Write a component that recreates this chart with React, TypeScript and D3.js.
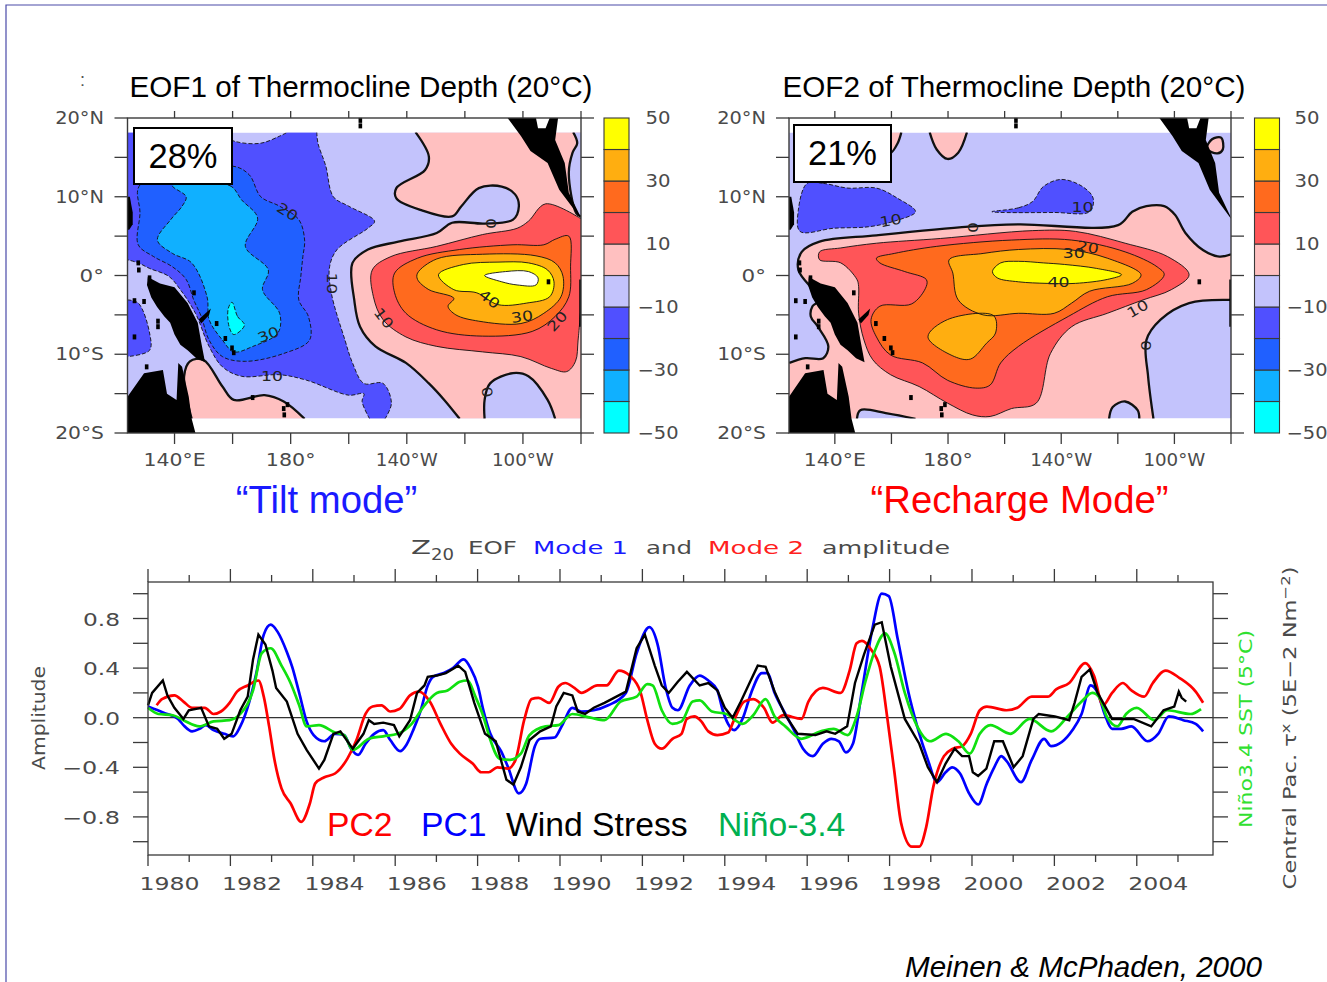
import React from "react";
import * as d3 from "d3";

type P = [number, number];
type Ring = { band: number; pts: P[] };

// ---------- time series (years since 1980, amplitude) ----------
const pc1T = [0,.38,.73,.86,1.07,1.25,1.4,1.59,1.85,2.07,2.24,2.46,2.63,2.81,2.98,3.15,3.37,3.5,3.67,3.85,4.02,4.28,4.54,4.76,4.93,5.1,5.28,5.49,5.71,5.88,6.12,6.27,6.45,6.62,6.79,6.92,7.18,7.4,7.66,7.83,8.01,8.14,8.31,8.57,8.74,9,9.18,9.39,9.52,9.87,10.04,10.3,10.52,10.82,11.17,11.6,11.86,12.17,12.37,12.56,12.73,12.86,13.15,13.39,13.6,13.82,13.95,14.08,14.23,14.43,14.64,14.9,15.03,15.21,15.47,15.68,15.9,16.14,16.38,16.59,16.77,16.94,17.11,17.33,17.59,17.81,17.98,18.2,18.46,18.67,18.93,19.15,19.36,19.52,19.71,19.93,20.15,20.36,20.54,20.71,20.84,21.19,21.45,21.75,21.92,22.44,22.66,22.88,23.05,23.22,23.4,23.62,23.87,24.26,24.52,24.78,25.13,25.43,25.61];
const pc1V = [.09,.04,-.01,-.06,-.11,-.09,-.06,-.1,-.13,-.15,-.07,.13,.36,.67,.75,.69,.53,.41,.2,-.03,-.14,-.19,-.13,-.14,-.25,-.3,-.21,-.13,-.1,-.18,-.27,-.22,-.09,.06,.26,.33,.36,.4,.47,.4,.25,.06,-.13,-.27,-.4,-.61,-.53,-.23,-.17,-.16,-.07,.08,.05,.06,.1,.2,.52,.73,.59,.25,.08,.06,.26,.34,.3,.22,.06,-.05,-.1,-.01,.2,.36,.36,.2,.03,-.1,-.25,-.31,-.21,-.17,-.19,-.28,-.21,.22,.73,1,.98,.63,.2,-.07,-.34,-.52,-.44,-.4,-.45,-.61,-.7,-.53,-.4,-.31,-.35,-.52,-.34,-.17,-.23,-.1,.03,.26,.2,.03,-.09,-.09,-.07,-.19,-.13,.01,-.02,-.05,-.11];

const pc2T = [.21,.34,.64,.86,1.07,1.38,1.59,1.77,1.98,2.16,2.42,2.68,2.81,2.94,3.07,3.24,3.46,3.72,3.93,4.06,4.28,4.54,4.84,5.06,5.28,5.45,5.67,5.88,6.1,6.36,6.58,6.84,7.1,7.36,7.57,7.88,8.09,8.27,8.48,8.74,8.92,9.13,9.31,9.48,9.74,9.96,10.13,10.35,10.52,10.91,11.13,11.43,11.69,11.95,12.12,12.3,12.47,12.73,12.95,13.08,13.26,13.43,13.6,13.82,14.08,14.21,14.47,14.69,14.95,15.16,15.42,15.86,16.03,16.38,16.81,17.03,17.2,17.33,17.55,17.76,17.94,18.11,18.28,18.54,18.72,18.89,19.06,19.32,19.54,19.76,19.97,20.19,20.36,20.84,21.1,21.45,21.84,22.05,22.36,22.75,22.96,23.18,23.4,23.66,23.87,24.18,24.39,24.7,25.04,25.43,25.61];
const pc2V = [.1,.15,.18,.13,.08,.08,.03,.05,.12,.21,.26,.3,.17,-.07,-.34,-.57,-.69,-.84,-.69,-.53,-.48,-.45,-.33,-.18,.03,.09,.1,.05,.07,.18,.21,.13,-.05,-.21,-.29,-.37,-.44,-.44,-.4,-.41,-.34,-.02,.15,.16,.12,.25,.28,.24,.2,.26,.26,.38,.34,.21,-.02,-.21,-.25,-.17,-.13,-.01,.01,-.03,-.11,-.14,-.12,-.03,.13,.15,.08,-.04,.02,-.01,.13,.24,.2,.38,.6,.62,.55,.41,.01,-.42,-.85,-1.04,-1.04,-.88,-.56,-.31,-.25,-.23,-.13,.06,.09,.06,.08,.17,.17,.23,.28,.44,.34,.1,.2,.28,.22,.17,.28,.38,.32,.21,.12];

const windT = [0,.1,.36,.47,.64,.86,.99,1.29,1.48,1.68,1.85,2.03,2.24,2.42,2.55,2.68,2.85,3.02,3.11,3.37,3.63,3.85,4.15,4.28,4.5,4.67,4.97,5.23,5.36,5.49,5.71,5.97,6.1,6.36,6.53,6.71,6.79,7.01,7.23,7.53,7.7,7.92,8.18,8.44,8.7,8.87,9.05,9.26,9.52,9.78,9.91,10.09,10.3,10.43,10.61,10.82,11.08,11.6,11.86,12.06,12.3,12.47,12.64,12.86,13.08,13.39,13.6,13.82,14,14.19,14.39,14.6,14.8,14.99,15.21,15.47,15.77,16.2,16.47,16.68,16.97,17.16,17.38,17.64,17.81,18.03,18.37,18.72,18.93,19.15,19.36,19.58,19.76,19.93,20.02,20.15,20.35,20.54,20.75,21.01,21.23,21.49,21.62,22.01,22.36,22.49,22.66,22.86,23.05,23.4,23.92,24.35,24.65,24.91,25.02,25.09,25.2];
const windV = [.1,.2,.3,.18,.08,-.01,.06,.08,-.07,-.09,-.17,-.13,.06,.17,.47,.67,.59,.38,.24,.13,-.13,-.26,-.41,-.34,-.13,-.11,-.25,-.13,-.02,-.05,-.04,-.06,-.15,-.02,.2,.26,.33,.34,.36,.42,.37,.12,-.13,-.19,-.5,-.54,-.4,-.18,-.11,-.07,.09,.2,.18,.05,.03,.08,.12,.21,.56,.67,.42,.26,.2,.29,.37,.26,.28,.22,.08,0,.13,.28,.42,.41,.21,.02,-.13,-.14,-.11,-.13,-.07,.28,.51,.75,.77,.41,-.01,-.21,-.4,-.52,-.37,-.25,-.31,-.31,-.44,-.47,-.41,-.19,-.19,-.4,-.31,-.01,.03,.01,-.02,.12,.33,.39,.2,-.01,-.01,-.07,.06,.09,.21,.16,.13];

const ninoT = [0,.25,.6,.86,1.25,1.59,1.98,2.24,2.55,2.76,2.98,3.24,3.46,3.67,3.85,4.15,4.54,4.76,4.97,5.36,5.71,6.06,6.4,6.71,7.01,7.27,7.57,7.75,7.96,8.14,8.31,8.53,8.79,9.05,9.26,9.65,9.96,10.3,10.74,11.08,11.47,11.86,12.12,12.25,12.47,12.73,12.95,13.22,13.39,13.69,14.04,14.43,14.69,14.99,15.21,15.47,15.86,16.33,16.64,16.98,17.2,17.42,17.63,17.89,18.11,18.37,18.67,18.98,19.37,19.67,19.95,20.19,20.45,20.93,21.4,21.92,22.32,22.66,22.92,23.1,23.27,23.53,23.74,24,24.43,24.74,25.3,25.56];
const ninoV = [.08,.03,.02,-.02,-.07,-.03,-.02,.03,.22,.52,.56,.42,.28,.1,-.07,-.06,-.12,-.14,-.26,-.17,-.15,-.13,-.05,.1,.2,.22,.29,.3,.16,.01,-.18,-.33,-.34,-.29,-.14,-.07,-.06,.03,0,-.02,.13,.17,.27,.26,.06,-.05,-.03,.13,.14,.05,.03,-.05,.02,.15,.01,-.07,-.17,-.11,-.09,-.14,.01,.3,.53,.68,.53,.2,-.07,-.19,-.13,-.19,-.29,-.13,-.06,-.13,-.01,-.11,.01,.13,.2,.16,.01,-.07,.03,.08,-.02,.06,.03,.07];

const yearLabels = ["1980","1982","1984","1986","1988","1990","1992","1994","1996","1998","2000","2002","2004"];
const ampTicks = [0.8, 0.4, 0, -0.4, -0.8];
const ampLabels = ["0.8", "0.4", "0.0", "\u22120.4", "\u22120.8"];

// ---------- colour bar ----------
const bandMids = [-45,-35,-25,-15,-5,5,15,25,35,45];
const bandColors = ["#00ffff","#10b0ff","#2060ff","#5050ff","#c3c3fc","#ffc0c0","#ff5558","#ff6a1e","#ffae10","#ffff00"];
const barLabels = [50,30,10,-10,-30,-50];

// ---------- EOF1 contour regions (lon E, lat) ----------
const e1Pink: P[] = [[223,18.2],[227.6,15.1],[226.3,13.4],[216.4,11.1],[216.4,9.8],[225,8.3],[235.6,7.5],[238.8,8.8],[244.8,11.1],[252.7,11.3],[257.3,10.3],[258.6,8.8],[256.6,7.1],[246.8,6.6],[235.6,6.7],[230.3,5.4],[217.1,4.3],[206.6,3.3],[201.3,1.6],[201.9,-3.1],[203.9,-6.5],[209.2,-9],[219.7,-11.1],[227.6,-13.7],[232.9,-15.8],[238.2,-18.2],[246.8,-18.2],[246.8,-15.8],[248.7,-13.7],[256.6,-12.4],[261.9,-12.8],[268.5,-15.8],[271.1,-18.2],[280,-18.2],[280,18.2]];
const e1Lav: P[] = [[277.3,18.2],[278.7,16.8],[277.1,15.6],[275.8,13],[278.4,7.9],[280,7.5],[280,18.2]];
const e1PinkSW: P[] = [[145.9,-18.2],[143.3,-12.8],[145.3,-10.9],[149.9,-10.7],[156.5,-14.1],[160.4,-15.8],[171,-15.2],[177.6,-16],[184.8,-18.2]];
const e1Violet: P[] = [[123.8,18.2],[153.8,18.2],[161.1,17],[169.7,16.8],[176.2,17.7],[178.9,18.2],[189,18.2],[189.4,16.8],[192.1,13.9],[194.7,10],[200,8.8],[208.9,6.9],[206.6,6],[196,3.3],[193.4,1.1],[194,-2.2],[198.7,-8.2],[201.3,-11.1],[205.2,-13.7],[211.8,-13.7],[214.7,-16.2],[212.5,-18.2],[207.2,-18.2],[204.6,-16],[205.2,-15],[200,-15.2],[185.5,-13.3],[176.2,-12.6],[163.1,-12.8],[156.5,-11.6],[151.9,-9],[147.2,-4.8],[142,-1.8],[138,-0.1],[131.4,0.9],[127.5,1.6],[123.8,2]];
const e1VioletSW: P[] = [[123.8,-3.1],[127.5,-3.5],[131.4,-7.3],[131.4,-9.5],[123.8,-10.3]];
const e1Blue: P[] = [[128.1,11.5],[159.8,13.9],[165.7,12.8],[169.7,10],[176.2,8.8],[182.8,7.1],[184.8,4.5],[184.2,2.4],[183.5,-0.1],[182.8,-3.1],[186.1,-5.2],[186.5,-8.2],[177.6,-9.9],[164.4,-10.9],[156.5,-10.3],[151.9,-8.2],[149.2,-5.2],[146.6,-3.1],[144,-0.5],[139.3,1.1],[132.8,2.4],[127.5,3.9],[128.1,7.9]];
const e1Sky: P[] = [[139.3,11.4],[159.1,11.4],[163.1,9.6],[168.6,7.3],[164.4,3.7],[172.3,0.7],[170.3,-1.8],[176.2,-4.8],[175.6,-7.3],[167,-9],[160.4,-9.7],[156.5,-8.2],[151.9,-5.6],[151.2,-2.7],[145.9,1.6],[139.3,2.8],[134.1,4.5],[138.7,7.1],[142.6,8.8],[144,10]];
const e1Cyan: P[] = [[159.8,-3.4],[161.7,-5.2],[164.1,-6.3],[160.4,-7.5],[158.8,-6.5],[158.5,-4.2]];
const e1Red: P[] = [[267.8,9.1],[280,7.2],[280,-3.9],[279,-8.2],[278.1,-10.9],[275.1,-12.2],[269.8,-11.8],[259.3,-10.3],[246.1,-9.7],[230.3,-9],[219.7,-7.8],[211.8,-5.6],[208.5,-2.7],[208.1,0.7],[214.5,2.4],[230.3,3.7],[246.1,5.2],[258,6],[261.9,6.9]];
const e1Dark: P[] = [[275.8,5],[276.4,1.1],[275.8,-2.7],[271.1,-5.2],[263.2,-7.1],[246.1,-7.7],[230.3,-6.9],[219.7,-4.8],[215.8,-2.2],[215.8,0.3],[223.7,2.2],[238.2,3.3],[256.6,3.9],[267.2,3.9],[271.1,4.6]];
const e1Orange: P[] = [[223.7,0.3],[230.3,2.1],[246.1,2.7],[264.5,2.5],[271.1,1.6],[273.8,-0.1],[273.1,-2.7],[267.2,-4.8],[259.3,-6.1],[244.8,-5.8],[236.9,-5],[234.2,-3.9],[236.2,-2.9],[227.6,-1.8],[223.7,-0.5]];
const e1Yellow: P[] = [[230.9,0.1],[239.5,1.4],[251.4,1.7],[261.9,1.6],[268.5,0.7],[270.7,-0.8],[269.2,-2.7],[261.3,-3.5],[251.4,-3.7],[244.1,-2.2],[236.2,-1.8]];
const e1White: P[] = [[246.8,0],[254,0.5],[261.9,0.5],[265.2,-0.3],[264.5,-1.2],[258,-1.2],[252.7,-0.8]];

// ---------- EOF2 contour regions ----------
const e2Pink: P[] = [[128.3,3],[134.6,4.3],[154.7,5.1],[187.3,6.2],[204.9,6.5],[240.1,6.4],[245.1,8.1],[250.1,8.8],[256.4,8.8],[260.2,7.7],[263.9,5.4],[270.2,3.2],[275.9,2.4],[280,2.7],[280,-3.1],[265.2,-3.5],[255.1,-5.6],[250.1,-8.2],[250.7,-12.8],[252.6,-18.2],[247.6,-18.2],[247,-17.1],[242.6,-16],[238.2,-16.7],[236.9,-18.2],[168.5,-18.2],[158.5,-17.5],[149,-17.1],[147.8,-18.2],[123.9,-18.2],[123.9,-11.1],[129.6,-10.5],[135.9,-10.5],[137.7,-9],[134,-6.5],[131.5,-5.2],[132.1,-3.9],[134.6,-3.1],[127.1,0.7]];
const e2PinkA: P[] = [[173.5,18.2],[176,16],[179.8,14.8],[183.6,15.6],[186.7,18.2]];
const e2PinkB: P[] = [[159.1,18.2],[159.7,15.6],[162.2,16.8],[163.5,18.2]];
const e2PinkC: P[] = [[271.5,16.1],[273.3,17.3],[276.5,17.5],[277.1,16],[275.2,15.5]];
const e2VioletA: P[] = [[130.2,11.7],[135.9,11.7],[144.6,11.1],[154.7,11.1],[162.2,9.8],[168.5,8.1],[161,6.9],[152.2,6.2],[139.6,6],[127.7,5.6],[127.1,8.3]];
const e2VioletB: P[] = [[195.5,8.1],[204.9,8.6],[209.9,9.4],[213.7,11.3],[220,12.2],[227.5,11.3],[231.3,9.8],[230,8.1],[217.5,8]];
const e2Red: P[] = [[134.6,3],[142.1,3.5],[154.7,4.1],[177.3,4.7],[209.9,5.7],[225,5.6],[242.6,4.1],[257.6,2.4],[265.2,0.1],[258.9,-1.8],[248.9,-3.1],[236.3,-4.8],[223.7,-6.5],[216.2,-9.9],[211.2,-16.2],[202.4,-16.9],[194.9,-17.9],[188.6,-17.7],[179.8,-16.2],[169.8,-14.1],[159.7,-12.6],[153.4,-10.7],[150.3,-8.2],[148.4,-4.8],[148.4,-1.4],[147.8,-0.5],[142.1,1.6],[134.6,2]];
const e2Dark: P[] = [[154.7,2.2],[161,2.8],[176,3.7],[202.4,4.5],[223.7,4.5],[242.6,3],[253.9,1.1],[256.4,0.1],[250.1,-1.8],[236.3,-2.7],[222.5,-5.2],[204.9,-9],[198.6,-11.1],[194.9,-13.9],[189.8,-14.3],[179.8,-13.3],[171,-11.1],[159.7,-10.1],[154.7,-7.8],[152.8,-5.6],[155.9,-3.9],[167.2,-3.6],[172.3,-1.4],[172.3,-0.5],[164.7,0.5],[155.9,1.6]];
const e2OrangeA: P[] = [[180.4,2],[192.4,2.8],[204.9,3.3],[222.5,3.3],[236.3,2.2],[248.2,0.1],[245.1,-1],[230,-2],[223.7,-3.5],[217.5,-4.8],[204.9,-4.8],[192.4,-5],[183.6,-3.1],[181.7,0.3]];
const e2OrangeB: P[] = [[179.8,-5.6],[196.1,-5.1],[196.8,-7.3],[193.6,-8.6],[188,-10.6],[182.3,-10.3],[172.9,-7.8]];
const e2Yellow: P[] = [[195.7,0.5],[198.6,1.6],[204.9,1.8],[213.7,1.6],[221.2,1.4],[232.5,0.9],[241.3,0.1],[236.3,-0.5],[225,-1],[215,-1],[204.9,-0.8],[197.4,-0.3]];

const eof1Rings: Ring[] = [
  { band: 5, pts: e1Pink }, { band: -5, pts: e1Lav }, { band: 5, pts: e1PinkSW },
  { band: -15, pts: e1Violet }, { band: -15, pts: e1VioletSW }, { band: -25, pts: e1Blue },
  { band: -35, pts: e1Sky }, { band: -45, pts: e1Cyan }, { band: 15, pts: e1Red },
  { band: 25, pts: e1Dark }, { band: 35, pts: e1Orange }, { band: 45, pts: e1Yellow }, { band: 55, pts: e1White },
];
const eof2Rings: Ring[] = [
  { band: 5, pts: e2Pink }, { band: 5, pts: e2PinkA }, { band: 5, pts: e2PinkB }, { band: 5, pts: e2PinkC },
  { band: -15, pts: e2VioletA }, { band: -15, pts: e2VioletB }, { band: 15, pts: e2Red },
  { band: 25, pts: e2Dark }, { band: 35, pts: e2OrangeA }, { band: 35, pts: e2OrangeB }, { band: 45, pts: e2Yellow },
];

// [text, lon, lat, rotation]
const eof1Labels: [string, number, number, number][] = [["20",178.9,8.1,32],["0",249,6.6,90],["10",194.4,-1,90],["40",248.5,-3,38],["30",259.7,-5.2,-8],["20",271.8,-5.8,-48],["10",212.1,-5.4,52],["30",172.3,-7.5,-22],["10",173.6,-12.8,0],["0",247.7,-14.8,80]];
const eof2Labels: [string, number, number, number][] = [["0",188.8,6.1,90],["10",159.7,7,-10],["10",227.5,8.7,0],["20",229.4,3.6,10],["30",224.4,2.8,0],["40",219,-0.8,0],["10",247,-4.2,-30],["0",250.1,-8.9,90]];

// ---------- land ----------
const landCentralAm: P[] = [[254.7,20],[272.1,20],[271.1,17.2],[274.4,14.3],[275.8,10.5],[279.7,7.6],[280,7.2],[272.5,10.9],[268.5,14.3],[262.6,15.8],[259.3,17.7]];
const landGuinea: P[] = [[130.8,-0.2],[135,-1],[140,-1.5],[144.5,-3.5],[148,-6],[149.2,-8.5],[150.5,-11],[147.5,-10.5],[144.5,-9.5],[142,-8.8],[140,-7.5],[138.5,-6],[136.5,-5.2],[134,-4],[132,-2.8],[130.5,-1.2]];
const landAustralia: P[] = [[123.8,-20],[147.2,-20],[145.9,-18.2],[144.9,-15.4],[142.6,-11.6],[141.3,-11.1],[140.7,-15.8],[137.4,-15],[136,-12],[129.5,-12.4],[123.8,-15.4]];
const landPhilippines: P[] = [[123.8,10],[124.6,10],[125.6,8],[125.6,6.5],[124.4,5.8],[123.8,5.8]];
const landEcuador: P[] = [[279.4,-0.5],[280,-0.5],[280,-6.5],[279.4,-6.5]];
const landBritain: P[] = [[148.3,-5.6],[152.5,-4.2],[151.9,-5],[149.2,-6.1]];
const landMasses = [landCentralAm, landGuinea, landAustralia, landPhilippines, landEcuador, landBritain];
const lakeHole: P[] = [[264.5,20],[269.2,20],[267.8,18.7],[265.2,18.7]];
const islandDots: P[] = [[154.5,-6.1],[157.5,-8],[159.8,-9.2],[160.4,-9.8],[127.5,1.6],[127.7,0.7],[131.4,-0.3],[126.2,-3.2],[129.5,-3.3],[134.3,-5.8],[134.3,-6.5],[126.2,-7.8],[130.4,-11.6],[177.8,-17.7],[177.6,-16.9],[268.8,-0.8],[166.9,-15.5],[178.9,-16.4],[146.7,-2.2],[204,19.7],[204,19]];

const lonTicks = [140,160,180,200,220,240,260,280];
const lonLabels: [number, string][] = [[140,"140\u00b0E"],[180,"180\u00b0"],[220,"140\u00b0W"],[260,"100\u00b0W"]];
const latTicks = [-20,-15,-10,-5,0,5,10,15,20];
const latLabels: [number, string][] = [[20,"20\u00b0N"],[10,"10\u00b0N"],[0,"0\u00b0"],[-10,"10\u00b0S"],[-20,"20\u00b0S"]];

const gradsFont = '"DejaVu Sans ExtraLight", "DejaVu Sans", sans-serif';
const ink = "#3a3a3a";
const textInk = "#4a4a4a";
const arial = '"Liberation Sans", Arial, sans-serif';

const bandColor = (b: number) => {
  const i = bandMids.indexOf(b);
  return i < 0 ? "#ffffff" : bandColors[i];
};
const onEdge = (p: P) => Math.abs(p[1]) >= 18.1 || p[0] <= 124 || p[0] >= 279.9;

// wide plotter-style lettering: the string is stretched to the width it has in the picture
function Wide(props: { x: number; y: number; len: number; anchor?: string; size?: number; fill?: string; children: any; transform?: string }) {
  const { x, y, len, anchor = "start", size = 17, fill = textInk, children, transform } = props;
  return (
    <text x={x} y={y} transform={transform} textAnchor={anchor} fontFamily={gradsFont} fontSize={size} fill={fill} textLength={len} lengthAdjust="spacingAndGlyphs">
      {children}
    </text>
  );
}

function Map(props: { id: string; x0: number; x1: number; barX: number; barW: number; latRight: number; barMid: number; rings: Ring[]; labels: [string, number, number, number][] }) {
  const { id, x0, x1, barX, barW, latRight, barMid, rings, labels } = props;
  const x = d3.scaleLinear().domain([123.8, 280]).range([x0, x1]);
  const y = d3.scaleLinear().domain([-20, 20]).range([433, 118]);
  const barY = d3.scaleLinear().domain([-50, 50]).range([433, 118]);
  const open = d3.line<P>().x(p => x(p[0])).y(p => y(p[1])).curve(d3.curveCatmullRom.alpha(0.5));
  const closed = d3.line<P>().x(p => x(p[0])).y(p => y(p[1])).curve(d3.curveCatmullRomClosed.alpha(0.5));
  const poly = d3.line<P>().x(p => x(p[0])).y(p => y(p[1])).curve(d3.curveLinear);

  const ringShapes = rings.map(r => {
    const n = r.pts.length;
    let start = -1;
    for (let i = 0; i < n; i++) {
      if (onEdge(r.pts[i]) && onEdge(r.pts[(i + 1) % n])) { start = (i + 1) % n; break; }
    }
    if (start < 0) { const d = closed(r.pts) as string; return { fill: d, lines: [d] }; }
    const runs: P[][] = [];
    let cur: P[] = [];
    for (let k = 0; k < n; k++) {
      const p = r.pts[(start + k) % n];
      const q = r.pts[(start + k + 1) % n];
      cur.push(p);
      if (onEdge(p) && onEdge(q)) { runs.push(cur); cur = []; }
    }
    if (cur.length) runs.push(cur);
    const lines = runs.filter(a => a.length > 1).map(a => open(a) as string);
    const fill = runs.map((a, i) => {
      const d = a.length > 1 ? (open(a) as string) : `M${x(a[0][0])},${y(a[0][1])}`;
      return i === 0 ? d : "L" + d.slice(1);
    }).join("") + "Z";
    return { fill, lines };
  });

  return (
    <g>
      <clipPath id={id}><rect x={x0} y={y(18.15)} width={x1 - x0} height={y(-18.15) - y(18.15)} /></clipPath>
      <g clipPath={`url(#${id})`}>
        <rect x={x0} y={y(18.15)} width={x1 - x0} height={y(-18.15) - y(18.15)} fill={bandColors[4]} />
        {rings.map((r, i) => <path key={i} d={ringShapes[i].fill} fill={bandColor(r.band)} />)}
        {rings.map((r, i) => ringShapes[i].lines.map((d, j) => (
          <path key={`${i}-${j}`} d={d} fill="none" stroke="#111"
            strokeWidth={Math.abs(r.band) === 5 ? 2.3 : 0.9}
            strokeDasharray={r.band < -5 ? "4 2" : undefined} />
        )))}
      </g>
      {landMasses.map((l, i) => <path key={i} d={(poly(l) as string) + "Z"} fill="#000" />)}
      {islandDots.map((p, i) => <rect key={i} x={x(p[0]) - 1.8} y={y(p[1]) - 2.5} width={3.6} height={5} fill="#000" />)}
      <path d={(poly(lakeHole) as string) + "Z"} fill="#fff" />
      {labels.map((l, i) => (
        <text key={i} transform={`translate(${x(l[1])},${y(l[2])}) rotate(${l[3]})`} textAnchor="middle" dy="0.36em"
          fontFamily={gradsFont} fontSize={14} fill="#222" textLength={l[0].length * 11} lengthAdjust="spacingAndGlyphs">{l[0]}</text>
      ))}
      <rect x={x0} y={118} width={x1 - x0} height={315} fill="none" stroke={ink} strokeWidth={1.4} />
      {lonTicks.map(t => <g key={t}>
        <line x1={x(t)} x2={x(t)} y1={118} y2={111} stroke={ink} strokeWidth={1.3} />
        <line x1={x(t)} x2={x(t)} y1={433} y2={444} stroke={ink} strokeWidth={1.3} />
      </g>)}
      {latTicks.map(t => <g key={t}>
        <line x1={x0 - 13} x2={x0} y1={y(t)} y2={y(t)} stroke={ink} strokeWidth={1.3} />
        <line x1={x1} x2={x1 + 13} y1={y(t)} y2={y(t)} stroke={ink} strokeWidth={1.3} />
      </g>)}
      {lonLabels.map(([t, s]) => (
        <Wide key={s} x={x(t)} y={466} anchor="middle" len={s.length * 12.4}>{s}</Wide>
      ))}
      {latLabels.map(([t, s]) => (
        <Wide key={s} x={latRight} y={y(t) + 6} anchor="end" len={s.length * 12.2}>{s}</Wide>
      ))}
      {bandMids.map((b, i) => (
        <rect key={b} x={barX} y={barY(b + 5)} width={barW} height={barY(b - 5) - barY(b + 5)} fill={bandColors[i]} stroke={ink} strokeWidth={1.1} />
      ))}
      {barLabels.map(v => (
        <Wide key={v} x={barMid} y={barY(v) + 6} anchor="middle" len={v < 0 ? 41 : 25}>
          {v < 0 ? "\u2212" + Math.abs(v) : String(v)}
        </Wide>
      ))}
    </g>
  );
}

function Series() {
  const x = d3.scaleLinear().domain([0, 25.85]).range([148, 1213]);
  const y = d3.scaleLinear().domain([-1, 1]).range([841.7, 593.7]);
  const frameTop = 582, frameBottom = 855;
  const path = (t: number[], v: number[], jag: boolean) =>
    d3.line<number>().x(i => x(t[i])).y(i => y(v[i])).curve(jag ? d3.curveLinear : d3.curveMonotoneX)(d3.range(t.length)) as string;
  const years = d3.range(0, 26);
  const ampMinor = d3.range(-5, 6).map(i => i * 0.2);
  return (
    <g>
      <line x1={148} x2={1213} y1={y(0)} y2={y(0)} stroke="#333" strokeWidth={1.3} />
      <path d={path(pc1T, pc1V, false)} fill="none" stroke="#0000ff" strokeWidth={2.7} />
      <path d={path(pc2T, pc2V, false)} fill="none" stroke="#ff0000" strokeWidth={2.7} />
      <path d={path(ninoT, ninoV, false)} fill="none" stroke="#10e010" strokeWidth={2.7} />
      <path d={path(windT, windV, true)} fill="none" stroke="#000" strokeWidth={2.4} />
      <rect x={148} y={frameTop} width={1065} height={frameBottom - frameTop} fill="none" stroke={ink} strokeWidth={1.3} />
      {years.map(t => {
        const long = t % 2 === 0;
        return <g key={t}>
          <line x1={x(t)} x2={x(t)} y1={frameTop} y2={frameTop - (long ? 13 : 7)} stroke={ink} strokeWidth={1.3} />
          <line x1={x(t)} x2={x(t)} y1={frameBottom} y2={frameBottom + (long ? 11 : 7)} stroke={ink} strokeWidth={1.3} />
        </g>;
      })}
      {ampMinor.map(v => <g key={v}>
        <line x1={133} x2={148} y1={y(v)} y2={y(v)} stroke={ink} strokeWidth={1.3} />
        <line x1={1213} x2={1228} y1={y(v)} y2={y(v)} stroke={ink} strokeWidth={1.3} />
      </g>)}
      {yearLabels.map(s => (
        <Wide key={s} x={x(+s - 1980 + 0.5) + 1} y={890} anchor="middle" len={60}>{s}</Wide>
      ))}
      {ampTicks.map((v, i) => (
        <Wide key={v} x={120} y={y(v) + 7} anchor="end" len={v < 0 ? 58 : 37}>{ampLabels[i]}</Wide>
      ))}
      <Wide x={411} y={554} len={20} size={19}>Z</Wide>
      <Wide x={431} y={560} len={23} size={15}>20</Wide>
      <Wide x={468} y={554} len={49} size={18}>EOF</Wide>
      <Wide x={533} y={554} len={95} size={18} fill="#1a1aff">Mode 1</Wide>
      <Wide x={646} y={554} len={46} size={18}>and</Wide>
      <Wide x={708} y={554} len={96} size={18} fill="#ff2020">Mode 2</Wide>
      <Wide x={822} y={554} len={128} size={18}>amplitude</Wide>
      <Wide x={0} y={0} transform="translate(45,718) rotate(-90)" anchor="middle" len={104} size={18}>Amplitude</Wide>
      <Wide x={0} y={0} transform="translate(1252,729) rotate(-90)" anchor="middle" len={198} size={18} fill="#30e030">{"Ni\u00f1o3.4 SST (5\u00b0C)"}</Wide>
      <Wide x={0} y={0} transform="translate(1296,728) rotate(-90)" anchor="middle" len={323} size={18}>
        {"Central Pac. \u03c4"}<tspan dy={-6} fontSize={13}>x</tspan><tspan dy={6}>{" (5E\u22122 Nm"}</tspan><tspan dy={-6} fontSize={13}>{"\u22122"}</tspan><tspan dy={6}>)</tspan>
      </Wide>
      <text x={327} y={836} fontFamily={arial} fontSize={33.7} fill="#ff0000">PC2</text>
      <text x={421} y={836} fontFamily={arial} fontSize={33.7} fill="#0000ff">PC1</text>
      <text x={506} y={836} fontFamily={arial} fontSize={33.7} fill="#000">Wind Stress</text>
      <text x={718} y={836} fontFamily={arial} fontSize={33.7} fill="#00b050">{"Ni\u00f1o-3.4"}</text>
    </g>
  );
}

export default function App() {
  return (
    <svg width={1327} height={982} style={{ position: "absolute", left: 0, top: 0, background: "#fff" }}>
      <path d="M6,982V5H1327" fill="none" stroke="#4a4aa8" strokeWidth={1.2} />
      <text x={80} y={86} fontFamily={arial} fontSize={18} fill="#555">:</text>
      <text x={129.5} y={97} fontFamily={arial} fontSize={29} textLength={463} lengthAdjust="spacingAndGlyphs" fill="#000">{"EOF1 of Thermocline Depth (20\u00b0C)"}</text>
      <text x={782.5} y={97} fontFamily={arial} fontSize={29} textLength={463} lengthAdjust="spacingAndGlyphs" fill="#000">{"EOF2 of Thermocline Depth (20\u00b0C)"}</text>
      <Map id="m1" x0={127.5} x1={581} barX={604} barW={25} latRight={104} barMid={658} rings={eof1Rings} labels={eof1Labels} />
      <Map id="m2" x0={789} x1={1231} barX={1254.5} barW={25} latRight={766} barMid={1307} rings={eof2Rings} labels={eof2Labels} />
      <rect x={134} y={128} width={98} height={56} fill="#fff" stroke="#000" strokeWidth={2} />
      <text x={183} y={168} textAnchor="middle" fontFamily={arial} fontSize={34.5}>28%</text>
      <rect x={794} y={125} width={97} height={57} fill="#fff" stroke="#000" strokeWidth={2} />
      <text x={842.5} y={165} textAnchor="middle" fontFamily={arial} fontSize={34.5}>21%</text>
      <text x={326.5} y={513} textAnchor="middle" fontFamily={arial} fontSize={38.3} fill="#1a1aff">{"\u201cTilt mode\u201d"}</text>
      <text x={1019.5} y={513} textAnchor="middle" fontFamily={arial} fontSize={38.3} fill="#ff0000">{"\u201cRecharge Mode\u201d"}</text>
      <Series />
      <text x={1262} y={977} textAnchor="end" fontFamily={arial} fontStyle="italic" fontSize={29.6} fill="#000">{"Meinen & McPhaden, 2000"}</text>
    </svg>
  );
}
